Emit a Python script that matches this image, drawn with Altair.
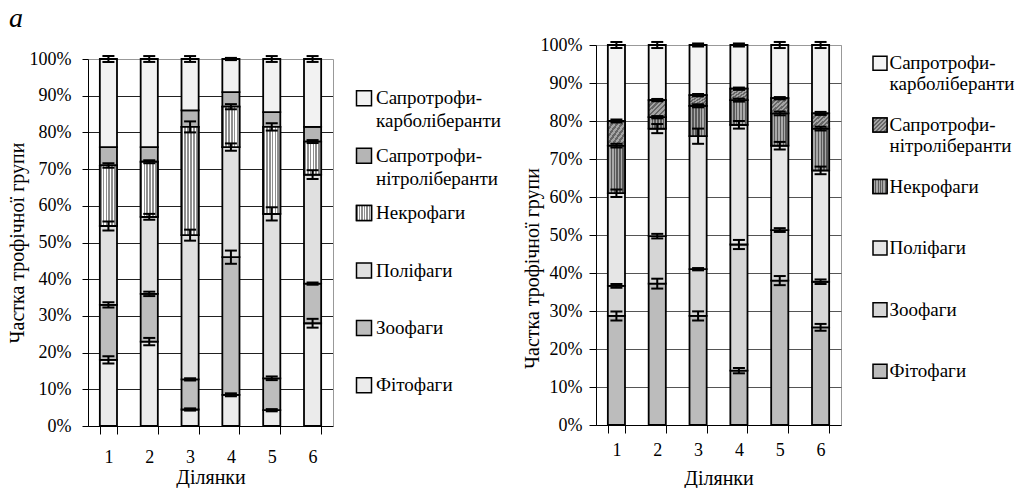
import altair as alt
import pandas as pd

# ---------------- data ----------------
sites = ["1", "2", "3", "4", "5", "6"]
groups = ["Фітофаги", "Зоофаги", "Поліфаги", "Некрофаги",
          "Сапротрофи-нітроліберанти", "Сапротрофи-карболіберанти"]  # bottom -> top

# panel а: share of trophic group, %
a_fito = [18, 23, 4.5, 8.5, 4.3, 28]
a_zoo = [15, 13, 8.2, 37.5, 8.7, 10.8]
a_poli = [21.5, 21, 39.3, 30, 44.8, 29.7]
a_nekro = [16.5, 15, 29.5, 11, 23.7, 9]
a_sn = [5, 4, 4.5, 4, 4, 4]
a_sk = [24, 24, 14, 9, 14.5, 18.5]
ea_fito = [1.0, 1.0, 0.3, 0.4, 0.3, 1.2]
ea_zoo = [0.7, 0.6, 0.3, 1.8, 0.5, 0.3]
ea_poli = [1.2, 0.8, 1.5, 1.0, 1.8, 1.2]
ea_nekro = [0.6, 0.4, 1.5, 0.7, 1.0, 0.4]
ea_sn = [0, 0, 0, 0, 0, 0]
ea_sk = [0.8, 0.8, 0.8, 0.3, 0.8, 0.8]

# panel б
b_fito = [28.7, 37.2, 28.7, 14.3, 38, 25.7]
b_zoo = [7.9, 12.5, 12.3, 33.2, 13.3, 12]
b_poli = [24.4, 28.3, 35, 31.5, 22.2, 29.3]
b_nekro = [12.5, 3, 8, 6.5, 8.5, 11]
b_sn = [6.5, 4.5, 2.8, 3, 4, 4]
b_sk = [20, 14.5, 13.2, 11.5, 14, 18]
eb_fito = [1.2, 1.3, 1.2, 0.7, 1.2, 0.9]
eb_zoo = [0.5, 0.6, 0.3, 1.2, 0.5, 0.6]
eb_poli = [1.0, 1.2, 2.0, 1.0, 1.0, 1.0]
eb_nekro = [0.5, 0.3, 0.4, 0.4, 0.5, 0.5]
eb_sn = [0.4, 0.3, 0.3, 0.3, 0.3, 0.4]
eb_sk = [0.8, 0.8, 0.4, 0.4, 0.8, 0.8]

legend_groups = groups[::-1]
leg_line1 = ["Сапротрофи-", "Сапротрофи-", "Некрофаги", "Поліфаги", "Зоофаги", "Фітофаги"]
leg_line2 = ["карболіберанти", "нітроліберанти", "", "", "", ""]

FONT = "Liberation Serif"


def build_df(vals, errs):
    rows = []
    for j, s in enumerate(sites):
        cum = 0.0
        for g, v, e in zip(groups, vals, errs):
            rows.append(dict(site=s, group=g, y0=cum, y1=cum + v[j], err=e[j]))
            cum += v[j]
    return pd.DataFrame(rows)


def stripes(c1, c2, n, frac, diag=False):
    stops = []
    for k in range(n):
        a, b, c = k / n, (k + frac) / n, (k + 1) / n
        stops += [alt.GradientStop(offset=a, color=c1), alt.GradientStop(offset=b, color=c1),
                  alt.GradientStop(offset=b, color=c2), alt.GradientStop(offset=c, color=c2)]
    if diag:
        return alt.LinearGradient(gradient="linear", stops=stops, x1=0, x2=1, y1=0, y2=1)
    return alt.LinearGradient(gradient="linear", stops=stops, x1=0, x2=1, y1=0, y2=0)


def panel(df, colors, specials, h, ycfg, xcfg, title=None, yrange=None):
    xscale = alt.Scale(paddingInner=0.58, paddingOuter=0.29)
    if yrange is None:
        yscale = alt.Scale(domain=[0, 100], nice=False)
    else:
        yscale = alt.Scale(domain=[0, 100], nice=False, range=yrange)
    border = yrange is not None  # draw own gray right border

    def X():
        return alt.X("site:N", sort=sites, scale=xscale, axis=alt.Axis(**xcfg))

    def Y(f, main=False, right=False):
        if main:
            ax = alt.Axis(**ycfg)
        elif right:
            ax = alt.Axis(orient="right", labels=False, ticks=False, grid=False, title=None,
                          domainColor="#999999", domainWidth=1)
        elif border:
            ax = None
        else:
            ax = alt.Axis(**ycfg)
        return alt.Y(f + ":Q", scale=yscale, axis=ax)

    base = alt.Chart(df)
    layers = [base.mark_bar(stroke="black", strokeWidth=1.8).encode(
        x=X(), y=Y("y0", main=True), y2="y1:Q",
        fill=alt.Fill("group:N", scale=alt.Scale(domain=groups, range=colors), legend=None))]
    for g, grad in specials.items():
        layers.append(base.transform_filter(alt.datum.group == g)
                      .mark_bar(fill=grad, stroke="black", strokeWidth=1.8)
                      .encode(x=X(), y=Y("y0"), y2="y1:Q"))
    eb = base.transform_filter("datum.err > 0").transform_calculate(
        lo="datum.y1 - datum.err", hi="datum.y1 + datum.err")
    layers.append(eb.mark_rule(color="black", strokeWidth=2).encode(
        x=X(), y=Y("lo"), y2="hi:Q"))
    layers.append(eb.mark_tick(color="black", thickness=2, size=12, opacity=1).encode(
        x=X(), y=Y("lo", right=border)))
    layers.append(eb.mark_tick(color="black", thickness=2, size=12, opacity=1).encode(
        x=X(), y=Y("hi")))
    ch = alt.layer(*layers)
    props = dict(width=245, height=h)
    if title is not None:
        props["title"] = title
    if border:
        ch = ch.resolve_axis(y="independent")
        props["view"] = alt.ViewBackground(stroke=None)
    return ch.properties(**props)


def legend_chart(colors, specials, dom, sq_size, sq_x, tx_x, dy2, w, h):
    ldf = pd.DataFrame({"group": legend_groups, "idx": list(range(6)),
                        "line1": leg_line1, "line2": leg_line2})
    y = alt.Y("idx:Q", scale=alt.Scale(domain=dom, reverse=True, nice=False, zero=False), axis=None)
    base = alt.Chart(ldf)
    layers = [base.mark_square(size=sq_size, stroke="black", strokeWidth=1.5, opacity=1).encode(
        x=alt.value(sq_x), y=y,
        fill=alt.Fill("group:N", scale=alt.Scale(domain=groups, range=colors), legend=None))]
    for g, grad in specials.items():
        layers.append(base.transform_filter(alt.datum.group == g)
                      .mark_square(size=sq_size, fill=grad, stroke="black", strokeWidth=1.5, opacity=1)
                      .encode(x=alt.value(sq_x), y=y))
    tx = dict(align="left", baseline="middle", font=FONT, fontSize=19, color="black")
    layers.append(base.mark_text(**tx).encode(x=alt.value(tx_x), y=y, text="line1:N"))
    layers.append(base.mark_text(dy=dy2, **tx).encode(x=alt.value(tx_x), y=y, text="line2:N"))
    return alt.layer(*layers).properties(width=w, height=h, view=alt.ViewBackground(stroke=None))


def grid_color(c):
    return {"condition": {"test": "datum.value === 100", "value": "#999999"}, "value": c}


common_axis = dict(labelFont=FONT, labelFontSize=18, labelColor="black",
                   titleFont=FONT, titleFontSize=20, titleFontWeight="normal", titleColor="black",
                   domainColor="black", tickColor="black")

# ---------- panel а ----------
df_a = build_df([a_fito, a_zoo, a_poli, a_nekro, a_sn, a_sk],
                [ea_fito, ea_zoo, ea_poli, ea_nekro, ea_sn, ea_sk])
colors_a = ["#ebebeb", "#bdbdbd", "#e0e0e0", "#b3b3b3", "#b5b5b5", "#f2f2f2"]
spec_a = {"Некрофаги": stripes("#8f8f8f", "#ffffff", 6, 0.6)}
ycfg_a = dict(common_axis, values=list(range(0, 101, 10)), labelExpr="datum.value + '%'",
              tickSize=6, labelPadding=11, title="Частка трофічної групи", titlePadding=2,
              gridColor=grid_color("#222222"))
xcfg_a = dict(common_axis, title="Ділянки", labelAngle=0, tickBand="extent", tickSize=8,
              labelPadding=14, titlePadding=1, grid=False)
title_a = alt.TitleParams("а", anchor="start", frame="bounds", font=FONT, fontSize=28,
                          fontStyle="italic", fontWeight="normal", color="black", offset=12.5, dx=2)
left = panel(df_a, colors_a, spec_a, 381, ycfg_a, xcfg_a, title_a, yrange=[381, 14])
lo_a = -53.3 / 57.4
leg_a = legend_chart(colors_a, spec_a, [lo_a, lo_a + 381 / 57.4], 225, 23, 35, 23, 172, 381)

# ---------- panel б ----------
df_b = build_df([b_fito, b_zoo, b_poli, b_nekro, b_sn, b_sk],
                [eb_fito, eb_zoo, eb_poli, eb_nekro, eb_sn, eb_sk])
colors_b = ["#bcbcbc", "#d6d6d6", "#e6e6e6", "#808080", "#878787", "#f4f4f4"]
spec_b = {"Некрофаги": stripes("#5a5a5a", "#a8a8a8", 6, 0.5),
          "Сапротрофи-нітроліберанти": stripes("#666666", "#a4a4a4", 7, 0.5, diag=True)}
ycfg_b = dict(common_axis, values=list(range(0, 101, 10)), labelExpr="datum.value + '%'",
              tickSize=7, labelPadding=7, title="Частка трофічної групи", titlePadding=-2,
              titleY=223, gridColor=grid_color("#555555"))
xcfg_b = dict(common_axis, title="Ділянки", labelAngle=0, tickBand="extent", tickSize=8,
              labelPadding=8, titlePadding=9, grid=False)
right = panel(df_b, colors_b, spec_b, 380, ycfg_b, xcfg_b)
lo_b = -18.3 / 61.6
leg_b = legend_chart(colors_b, spec_b, [lo_b, lo_b + 380 / 61.6], 196, 30, 39.5, 21, 172, 380)

chart = (alt.hconcat(left, leg_a, right, leg_b, spacing=8)
         .resolve_scale(fill="independent")
         .properties(padding={"left": 7, "top": 4, "right": 0, "bottom": 0},
                     background="white")
         .configure_view(stroke="#999999", strokeWidth=1))

chart.save("out.html", embed_options={"renderer": "svg", "actions": False})
